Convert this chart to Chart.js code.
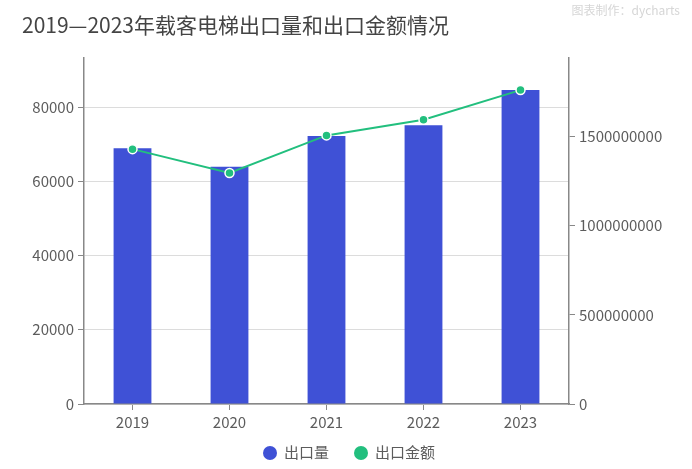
<!DOCTYPE html>
<html>
<head>
    <meta charset="utf-8">
    <title>载客电梯出口</title>
    <style>
        body {
            margin: 0;
            padding: 0;
            background: #ffffff;
            font-family: "Noto Sans CJK SC", "Noto Sans", sans-serif;
        }
        #wrap {
            position: relative;
            width: 692px;
            height: 469px;
        }
        #title {
            position: absolute;
            left: 22px;
            top: 9px;
            font-size: 21px;
            color: #444444;
            white-space: nowrap;
        }
        #credit {
            position: absolute;
            right: 12px;
            top: 1px;
            font-size: 12px;
            color: #d6d6d6;
        }
        #legend {
            position: absolute;
            left: 3px;
            top: 442px;
            width: 692px;
            display: flex;
            justify-content: center;
            gap: 25px;
            font-size: 15px;
            line-height: 20px;
            color: #5c5c5c;
        }
        #legend span.dot {
            display: inline-block;
            width: 14px;
            height: 14px;
            border-radius: 50%;
            margin-right: 7px;
            vertical-align: -2px;
        }
    </style>
</head>
<body>
<div id="wrap">
    <canvas id="chart" width="692" height="469"></canvas>
    <div id="title">2019—2023年载客电梯出口量和出口金额情况</div>
    <div id="credit">图表制作：dycharts</div>
    <div id="legend"></div>
</div>
<script src="https://cdn.jsdelivr.net/npm/chart.js"></script>
<script>
    // categories and series
    const years = ['2019', '2020', '2021', '2022', '2023'];
    const exportCount = [68900, 63900, 72200, 75100, 84600];
    const exportValue = [1429000000, 1295000000, 1506000000, 1594000000, 1760000000];

    const leftTicks = [0, 20000, 40000, 60000, 80000];
    const rightTicks = [0, 500000000, 1000000000, 1500000000];

    const tickFont = { family: '"Noto Sans CJK SC", "Noto Sans", sans-serif', size: 15 };

    const ctx = document.getElementById('chart').getContext('2d');
    const chart = new Chart(ctx, {
      type: 'bar',
      data: {
        labels: years,
        datasets: [{
          type: 'line',
          label: '出口金额',
          data: exportValue,
          yAxisID: 'y2',
          borderColor: '#22bf7e',
          backgroundColor: '#22bf7e',
          borderWidth: 2,
          pointRadius: 4.5,
          pointBorderColor: '#ffffff',
          pointBorderWidth: 1.5,
          tension: 0,
          order: 0,
        }, {
          label: '出口量',
          data: exportCount,
          yAxisID: 'y',
          backgroundColor: '#3f51d6',
          categoryPercentage: 1,
          barPercentage: 0.39,
          order: 1,
        }],
      },
      options: {
        responsive: false,
        animation: false,
        layout: {
          padding: { top: 58, right: 0, left: 0, bottom: 35 },
        },
        scales: {
          x: {
            grid: {
              drawOnChartArea: false,
              offset: false,
              tickColor: '#888888',
              tickLength: 6,
            },
            border: { color: '#888888', width: 1.5 },
            ticks: { color: '#5c5c5c', font: tickFont, padding: 3 },
          },
          y: {
            position: 'left',
            min: 0,
            max: 93200,
            afterFit: (s) => { s.width = 84; },
            afterBuildTicks: (s) => { s.ticks = leftTicks.map(v => ({ value: v })); },
            grid: {
              color: '#dcdcdc',
              tickColor: '#888888',
              tickLength: 6,
            },
            border: { color: '#888888', width: 1.5 },
            ticks: { color: '#5c5c5c', font: tickFont, padding: 4, callback: (v) => String(v) },
          },
          y2: {
            position: 'right',
            min: 0,
            max: 1940000000,
            afterFit: (s) => { s.width = 123; },
            afterBuildTicks: (s) => { s.ticks = rightTicks.map(v => ({ value: v })); },
            grid: {
              drawOnChartArea: false,
              tickColor: '#888888',
              tickLength: 6,
            },
            border: { color: '#888888', width: 1.5 },
            ticks: { color: '#5c5c5c', font: tickFont, padding: 4, callback: (v) => String(v) },
          },
        },
        plugins: {
          legend: { display: false },
          tooltip: { enabled: false },
        },
      },
    });

    // html legend built from the datasets (bars first, as in the original)
    const legendEl = document.getElementById('legend');
    chart.data.datasets.slice().reverse().forEach((ds) => {
      const item = document.createElement('div');
      item.innerHTML = '<span class="dot" style="background:' + ds.backgroundColor + '"></span>' + ds.label;
      legendEl.appendChild(item);
    });
</script>
</body>
</html>
